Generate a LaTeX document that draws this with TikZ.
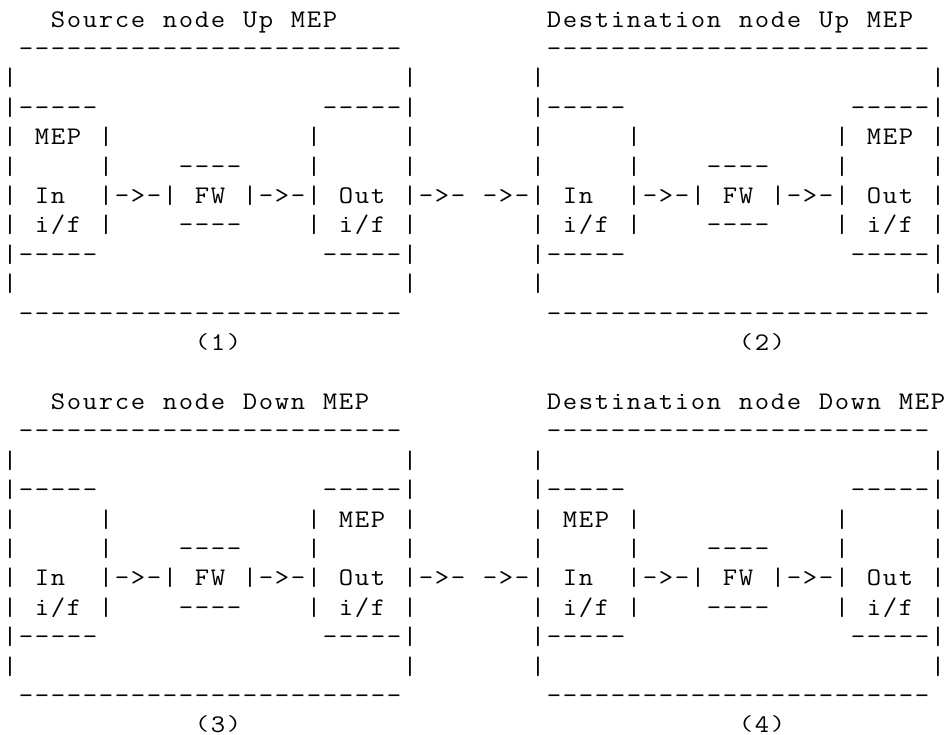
\documentclass[tikz,border=0pt]{standalone}
\newdimen\cw \cw=12pt
\protected\def\sk{}
\protected\def\lp{\raisebox{0.09em}{\scalebox{1}[0.85]{(}}}
\protected\def\rp{\raisebox{0.09em}{\scalebox{1}[0.85]{)}}}
\def\cells#1{\edef\asctmp{#1}\expandafter\cellsi\asctmp\relax}
\def\cellsi#1{%
  \ifx#1\relax\let\ascnext\relax
  \else\ifx#1\sk\let\ascnext\cellskip
  \else\hbox to\cw{\hss\scalebox{1.1}[1]{#1}\hss}\let\ascnext\cellsi
  \fi\fi\ascnext}
\def\cellskip#1{\hskip#1\cw\relax\cellsi}
\def\Dd{----}
\def\D{\Dd\Dd\Dd\Dd\Dd\Dd}
\def\B{|\sk{24}|}
\def\Q{|-----\sk{14}-----|}
\tikzset{asc/.style={anchor=base west, inner sep=0pt, outer sep=0pt,
  font=\ttfamily\fontsize{19}{22}\selectfont}}
\begin{document}
\begin{tikzpicture}[x=12pt,y=-22.05pt]
\useasboundingbox (-0.125,0) rectangle (59,25);
\def\b{0.925}
\node[asc] (r1)  at (0,\b+0)  {\cells{\sk3Source\sk1node\sk1Up\sk1MEP\sk{13}Destination\sk1node\sk1Up\sk1MEP}};
\node[asc] (r2)  at (0,\b+1)  {\cells{\sk1\D\sk9\D}};
\node[asc] (r3)  at (0,\b+2)  {\cells{\B\sk7\B}};
\node[asc] (r4)  at (0,\b+3)  {\cells{\Q\sk7\Q}};
\node[asc] (r5)  at (0,\b+4)  {\cells{|\sk1MEP\sk1|\sk{12}|\sk5|\sk7|\sk5|\sk{12}|\sk1MEP\sk1|}};
\node[asc] (r6)  at (0,\b+5)  {\cells{|\sk5|\sk4----\sk4|\sk5|\sk7|\sk5|\sk4----\sk4|\sk5|}};
\node[asc] (r7)  at (0,\b+6)  {\cells{|\sk1In\sk2|->-|\sk1FW\sk1|->-|\sk1Out\sk1|->-\sk1->-|\sk1In\sk2|->-|\sk1FW\sk1|->-|\sk1Out\sk1|}};
\node[asc] (r8)  at (0,\b+7)  {\cells{|\sk1i/f\sk1|\sk4----\sk4|\sk1i/f\sk1|\sk7|\sk1i/f\sk1|\sk4----\sk4|\sk1i/f\sk1|}};
\node[asc] (r9)  at (0,\b+8)  {\cells{\Q\sk7\Q}};
\node[asc] (r10) at (0,\b+9)  {\cells{\B\sk7\B}};
\node[asc] (r11) at (0,\b+10) {\cells{\sk1\D\sk9\D}};
\node[asc] (r12) at (0,\b+11) {\cells{\sk{12}\lp1\rp\sk{31}\lp2\rp}};
\node[asc] (r14) at (0,\b+13) {\cells{\sk3Source\sk1node\sk1Down\sk1MEP\sk{11}Destination\sk1node\sk1Down\sk1MEP}};
\node[asc] (r15) at (0,\b+14) {\cells{\sk1\D\sk9\D}};
\node[asc] (r16) at (0,\b+15) {\cells{\B\sk7\B}};
\node[asc] (r17) at (0,\b+16) {\cells{\Q\sk7\Q}};
\node[asc] (r18) at (0,\b+17) {\cells{|\sk5|\sk{12}|\sk1MEP\sk1|\sk7|\sk1MEP\sk1|\sk{12}|\sk5|}};
\node[asc] (r19) at (0,\b+18) {\cells{|\sk5|\sk4----\sk4|\sk5|\sk7|\sk5|\sk4----\sk4|\sk5|}};
\node[asc] (r20) at (0,\b+19) {\cells{|\sk1In\sk2|->-|\sk1FW\sk1|->-|\sk1Out\sk1|->-\sk1->-|\sk1In\sk2|->-|\sk1FW\sk1|->-|\sk1Out\sk1|}};
\node[asc] (r21) at (0,\b+20) {\cells{|\sk1i/f\sk1|\sk4----\sk4|\sk1i/f\sk1|\sk7|\sk1i/f\sk1|\sk4----\sk4|\sk1i/f\sk1|}};
\node[asc] (r22) at (0,\b+21) {\cells{\Q\sk7\Q}};
\node[asc] (r23) at (0,\b+22) {\cells{\B\sk7\B}};
\node[asc] (r24) at (0,\b+23) {\cells{\sk1\D\sk9\D}};
\node[asc] (r25) at (0,\b+24) {\cells{\sk{12}\lp3\rp\sk{31}\lp4\rp}};
\end{tikzpicture}
\end{document}
